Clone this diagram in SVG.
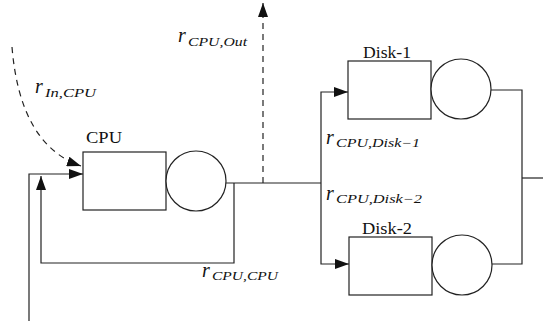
<svg xmlns="http://www.w3.org/2000/svg" width="543" height="321" viewBox="0 0 543 321">
<defs>
<style>
.box{fill:#fff;stroke:#222;stroke-width:1.2}
.ln{fill:none;stroke:#222;stroke-width:1.2}
.dash{fill:none;stroke:#222;stroke-width:1.2;stroke-dasharray:6 5}
.lbl{font-family:"Liberation Serif","Times New Roman",serif;font-size:17px;fill:#111}
.r{font-family:"Liberation Serif","Times New Roman",serif;font-style:italic;font-size:20px;fill:#111}
.sub{font-family:"Liberation Serif","Times New Roman",serif;font-style:italic;font-size:12px;fill:#111}
</style>
<marker id="ah" viewBox="0 0 14 10" refX="14" refY="5" markerWidth="14" markerHeight="10" markerUnits="userSpaceOnUse" orient="auto">
<path d="M0,0 L14,5 L0,10 Z" fill="#111"/>
</marker>
</defs>
<rect width="543" height="321" fill="#fff"/>
<g id="connectors">
<path class="dash" d="M12,47 Q20,145 81,166" marker-end="url(#ah)"/>
<path class="dash" d="M263,183 L263,3" marker-end="url(#ah)"/>
<path class="ln" d="M29,321 L29,174 L83,174" marker-end="url(#ah)"/>
<path class="ln" d="M226,183 L321,183"/>
<path class="ln" d="M234,183 L234,263 L41,263 L41,176" marker-end="url(#ah)"/>
<path class="ln" d="M321,183 L321,92 L348,92" marker-end="url(#ah)"/>
<path class="ln" d="M321,183 L321,264 L349,264" marker-end="url(#ah)"/>
<path class="ln" d="M491,90 L522,90 L522,264 L492,264"/>
<path class="ln" d="M522,178 L543,178"/>
</g>
<g id="cpu">
<rect class="box" x="83" y="152" width="83" height="58"/>
<circle class="box" cx="196" cy="181" r="30"/>
<text class="lbl" x="86" y="143" textLength="36" lengthAdjust="spacingAndGlyphs">CPU</text>
</g>
<g id="disk1">
<rect class="box" x="348" y="61" width="83" height="58"/>
<circle class="box" cx="461" cy="89" r="30"/>
<text class="lbl" x="363" y="58" textLength="48" lengthAdjust="spacingAndGlyphs">Disk-1</text>
</g>
<g id="disk2">
<rect class="box" x="349" y="237" width="83" height="58"/>
<circle class="box" cx="462" cy="265" r="30"/>
<text class="lbl" x="362" y="234" textLength="50" lengthAdjust="spacingAndGlyphs">Disk-2</text>
</g>
<g id="labels">
<text><tspan class="r" x="178" y="42">r</tspan><tspan class="sub" x="188" y="46" textLength="59" lengthAdjust="spacingAndGlyphs">CPU,Out</tspan></text>
<text><tspan class="r" x="35" y="93">r</tspan><tspan class="sub" x="45" y="97" textLength="51" lengthAdjust="spacingAndGlyphs">In,CPU</tspan></text>
<text><tspan class="r" x="202" y="277">r</tspan><tspan class="sub" x="212" y="280" textLength="66" lengthAdjust="spacingAndGlyphs">CPU,CPU</tspan></text>
<text><tspan class="r" x="326" y="144">r</tspan><tspan class="sub" x="336" y="147" textLength="84" lengthAdjust="spacingAndGlyphs">CPU,Disk−1</tspan></text>
<text><tspan class="r" x="326" y="200">r</tspan><tspan class="sub" x="336" y="203" textLength="86" lengthAdjust="spacingAndGlyphs">CPU,Disk−2</tspan></text>
</g>
</svg>
